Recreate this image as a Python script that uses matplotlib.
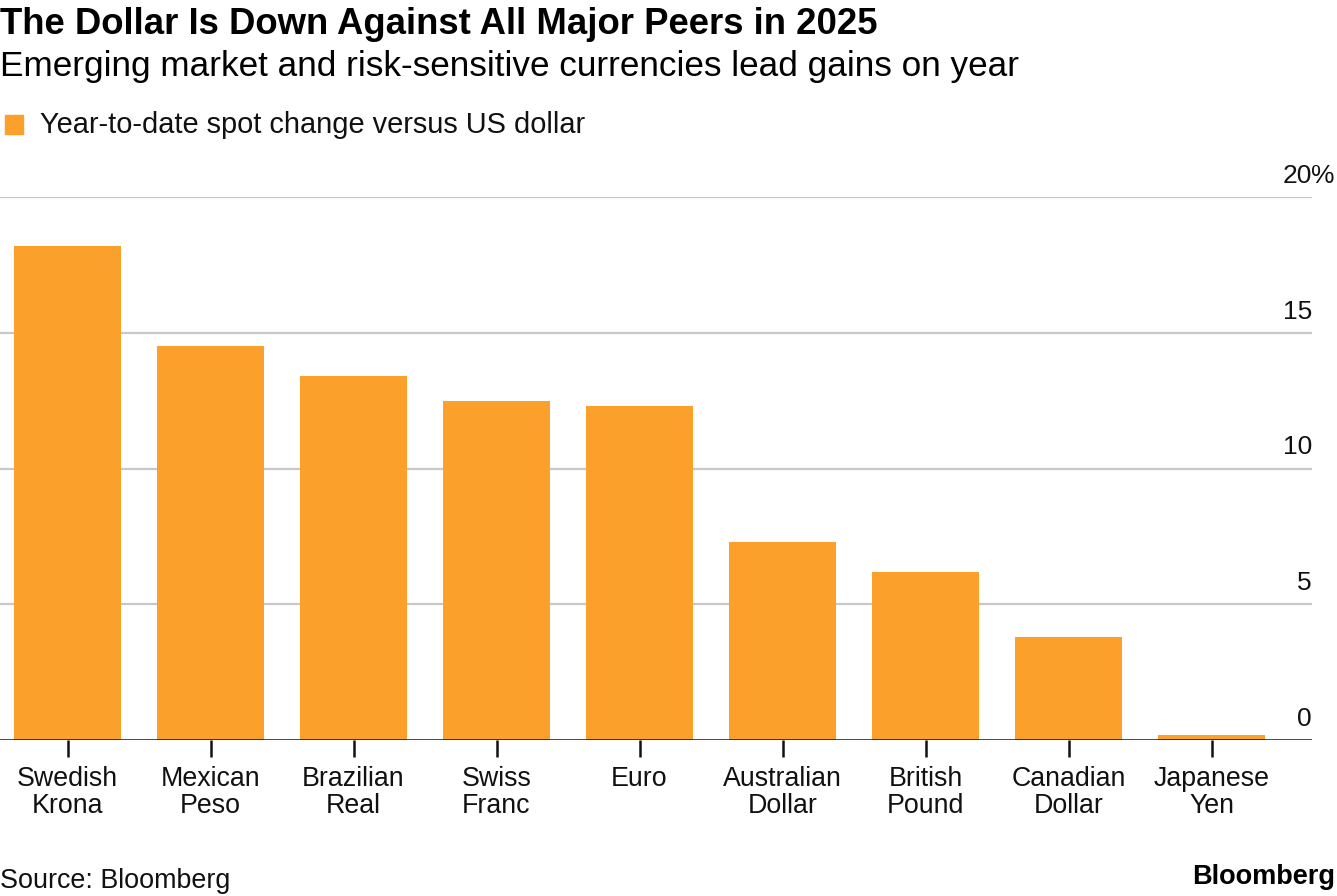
import matplotlib.pyplot as plt
from matplotlib.transforms import blended_transform_factory

plt.rcParams['font.family'] = ['Liberation Sans', 'DejaVu Sans']

# Year-to-date spot change vs US dollar, %
currencies = ["Swedish\nKrona", "Mexican\nPeso", "Brazilian\nReal", "Swiss\nFranc",
              "Euro", "Australian\nDollar", "British\nPound", "Canadian\nDollar",
              "Japanese\nYen"]
ytd_change = [18.2, 14.5, 13.4, 12.5, 12.3, 7.3, 6.2, 3.8, 0.2]
y_ticks = [0, 5, 10, 15, 20]

W, H = 1337, 896
fig = plt.figure(figsize=(W / 100, H / 100), dpi=100)

# axes: x 0..1312 px, y from 740 (0) to 197 (20)
ax = fig.add_axes([0, 1 - 740 / H, 1312 / W, (740 - 197) / H])
bar_color = '#fca02c'
x = list(range(len(currencies)))
ax.bar(x, ytd_change, width=0.75, color=bar_color, zorder=2)

ax.set_ylim(0, 20)
ax.set_xlim(-67.5 / 143, (1312 - 67.5) / 143)

for s in ax.spines.values():
    s.set_visible(False)
ax.set_yticks([])
for t in y_ticks[1:]:
    ax.axhline(t, color='#c8c8c8', lw=1.6, zorder=1)
ax.axhline(0, color='#111111', lw=1.8, zorder=3)

ax.set_xticks(x)
ax.set_xticklabels(currencies, fontsize=19.3, linespacing=1.02)
ax.tick_params(axis='x', length=12, width=1.8, color='#111111', pad=7,
               labelcolor='#111111')

tr = blended_transform_factory(ax.transAxes, ax.transData)
for t in y_ticks:
    ax.text(1.0, t + 14 / 27.1, str(t), transform=tr, ha='right', va='baseline',
            fontsize=19, color='#111111')
ax.text(0.9995, 20 + 14 / 27.1, "%", transform=tr, ha='left', va='baseline',
        fontsize=19, color='#111111')

# header
fig.text(0.0, 1 - 34 / H, "The Dollar Is Down Against All Major Peers in 2025",
         fontsize=26.3, fontweight='bold', ha='left', va='baseline', color='#000000')
fig.text(0.0, 1 - 76 / H, "Emerging market and risk-sensitive currencies lead gains on year",
         fontsize=25.3, ha='left', va='baseline', color='#000000')

# legend
fig.patches.append(plt.Rectangle((5 / W, 1 - 134 / H), 18 / W, 19 / H,
                                 transform=fig.transFigure, color=bar_color))
fig.text(40 / W, 1 - 133 / H, "Year-to-date spot change versus US dollar",
         fontsize=20.9, ha='left', va='baseline', color='#111111')

# footer
fig.text(0.0, 1 - 888 / H, "Source: Bloomberg", fontsize=19.4,
         ha='left', va='baseline', color='#111111')
fig.text(1335 / W, 1 - 884 / H, "Bloomberg", fontsize=19.5, fontweight='bold',
         ha='right', va='baseline', color='#000000')

fig.savefig("out.png", dpi=100)
